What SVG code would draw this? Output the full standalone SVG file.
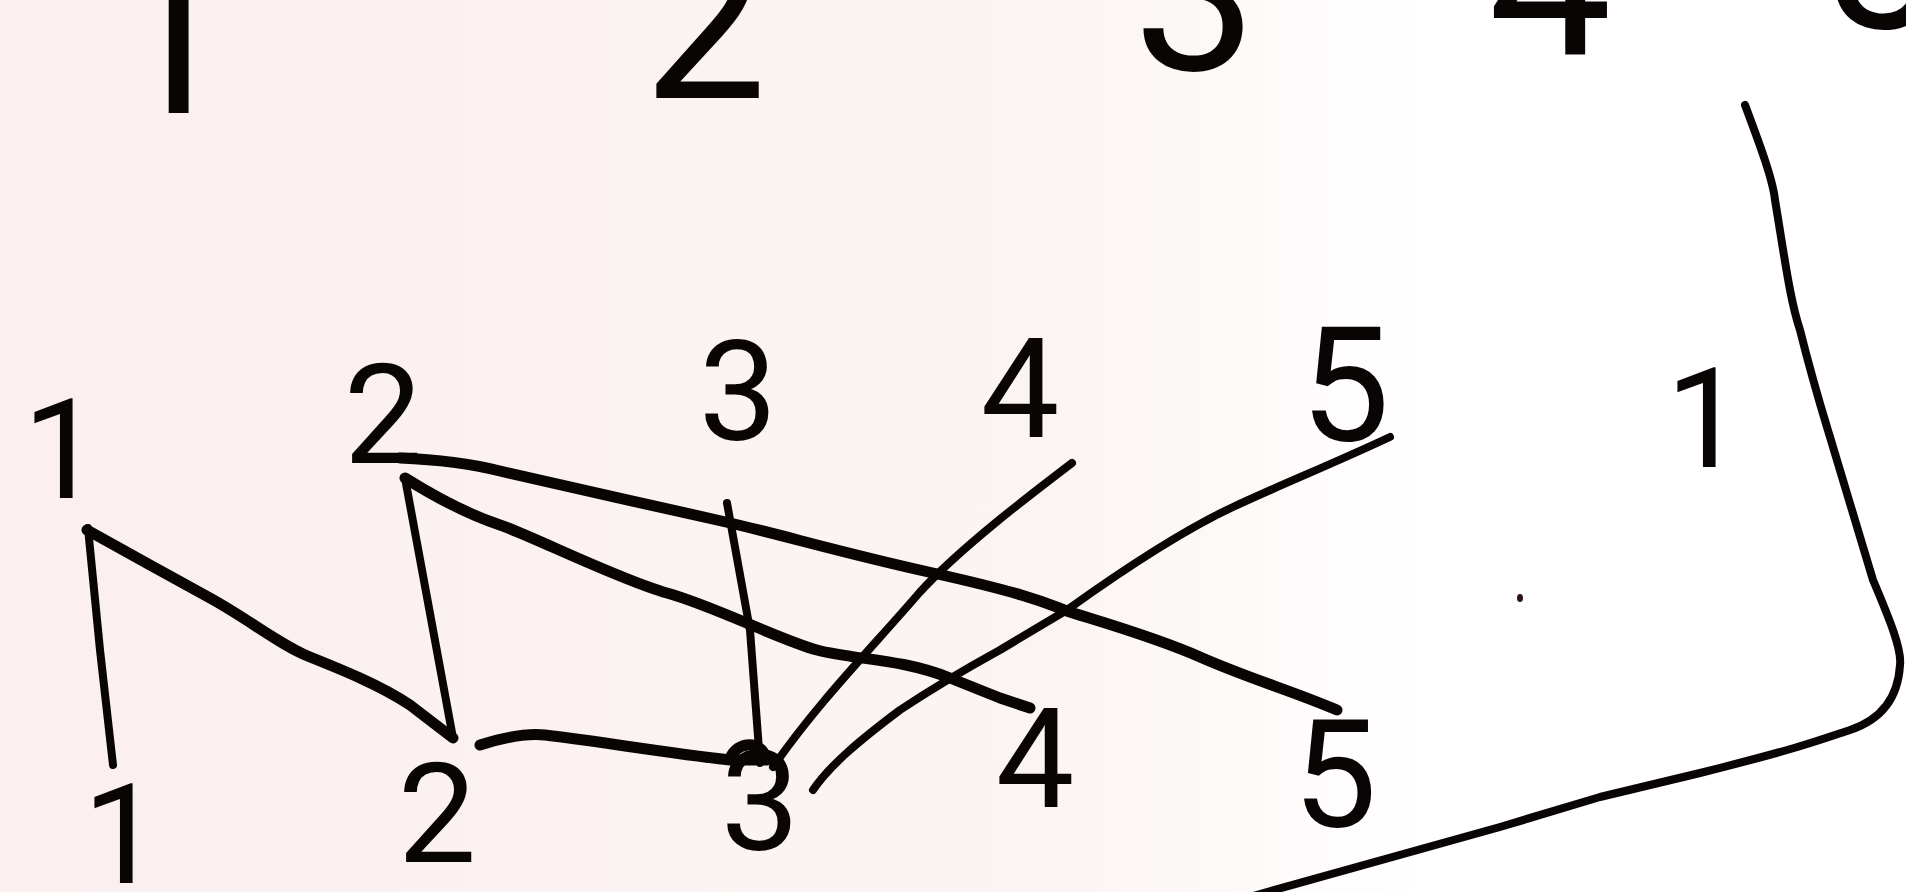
<svg xmlns="http://www.w3.org/2000/svg" width="1906" height="892" viewBox="0 0 1906 892">
<defs>
<linearGradient id="paper" x1="0" y1="0" x2="1" y2="0">
<stop offset="0" stop-color="#fbeff0"/>
<stop offset="0.55" stop-color="#fcf4f4"/>
<stop offset="0.75" stop-color="#ffffff"/>
<stop offset="1" stop-color="#ffffff"/>
</linearGradient>
<style>
.d{font-family:Roboto,"Liberation Sans",sans-serif;font-size:140px;fill:#0a0505;text-anchor:middle}
.big{font-size:220px}
.c{fill:none;stroke:#0a0505;stroke-width:11;stroke-linecap:round;stroke-linejoin:round}
.t{stroke-width:8}
</style>
</defs>
<rect width="1906" height="892" fill="url(#paper)"/>
<g id="top-row">
<text class="d big" x="172" y="113">1</text>
<text class="d big" x="705" y="98">2</text>
<text class="d big" x="1195" y="70">3</text>
<text class="d big" x="1550" y="55">4</text>
<text class="d big" x="1880" y="28">5</text>
</g>
<g id="node-u1"><text class="d" x="62" y="498">1</text></g>
<g id="node-u2"><text class="d" x="383" y="463">2</text></g>
<g id="node-u3"><text class="d" x="738" y="440">3</text></g>
<g id="node-u4"><text class="d" x="1020" y="437">4</text></g>
<g id="node-u5"><text class="d" x="1345" y="440" style="font-size:160px">5</text></g>
<g id="node-r1"><text class="d" x="1705" y="467">1</text></g>
<g id="node-b1"><text class="d" x="122" y="883">1</text></g>
<g id="node-b2"><text class="d" x="437" y="862">2</text></g>
<g id="node-b3"><text class="d" x="760" y="850">3</text></g>
<g id="node-b4"><text class="d" x="1035" y="807">4</text></g>
<g id="node-b5"><text class="d" x="1335" y="827" style="font-size:150px">5</text></g>
<g id="connectors">
<path class="c t" d="M88,528 L100,650 L113,765"/>
<path class="c" d="M87,530 L150,565 L210,598 C250,620 280,645 310,657 S380,685 410,705 L453,738"/>
<path class="c t" d="M405,478 L453,738"/>
<path class="c" d="M405,478 C440,500 470,515 500,525 S620,580 667,593 S780,640 817,650 S900,658 950,678 L1000,698 L1030,708"/>
<path class="c" d="M400,458 C450,460 480,466 500,471 S650,505 717,520 S830,550 933,573 S1050,605 1067,611 S1150,635 1200,657 S1290,690 1337,710"/>
<path class="c t" d="M727,503 L750,630 L760,763"/>
<path class="c" d="M480,745 C505,737 525,733 545,735 C590,740 660,752 730,760 L767,760 M730,760 C732,745 760,735 767,760"/>
<path class="c t" d="M1072,463 C1030,495 960,548 920,592 C870,650 820,700 773,767"/>
<path class="c t" d="M1390,437 C1330,465 1280,485 1233,507 S1120,572 1067,610 L1000,650 C960,672 930,690 900,710 C860,740 830,765 813,790"/>
<path class="c t" d="M1745,105 C1760,145 1773,180 1775,200 C1785,260 1790,300 1800,330 C1815,390 1825,420 1833,447 L1873,580 C1890,620 1902,650 1900,665 C1898,700 1880,720 1850,730 C1820,740 1800,748 1700,773 L1600,797 L1500,827 L1267,892 L1240,900"/>
</g>
<ellipse cx="1520" cy="598" rx="3" ry="4" fill="#2a1010"/>
</svg>
